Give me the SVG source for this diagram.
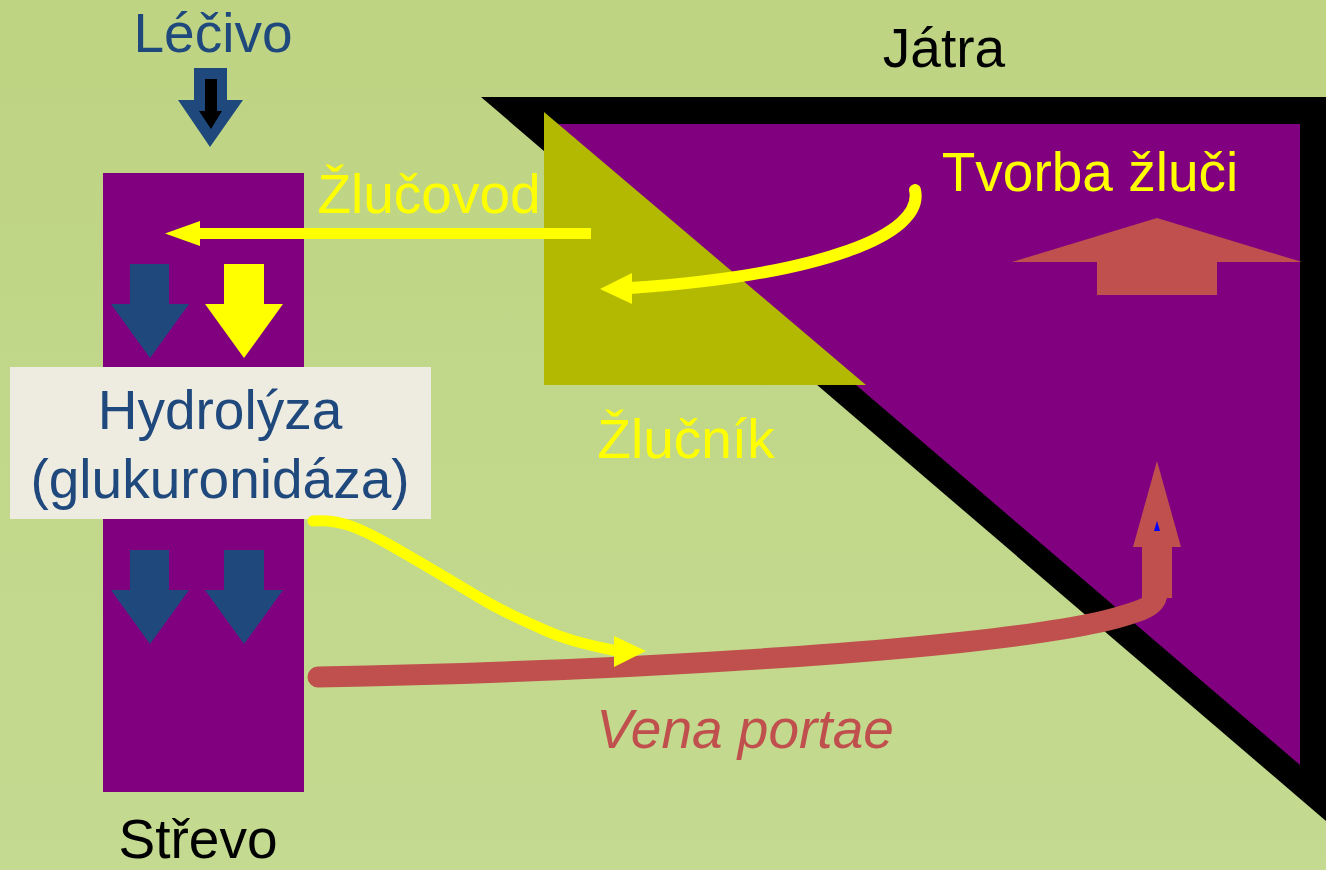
<svg xmlns="http://www.w3.org/2000/svg" width="1326" height="870" viewBox="0 0 1326 870">
<defs>
<linearGradient id="bg" x1="0" y1="0" x2="0" y2="1">
<stop offset="0" stop-color="#BED483"/>
<stop offset="1" stop-color="#C4DA90"/>
</linearGradient>
<style>
text{font-family:"Liberation Sans",Arial,sans-serif;font-size:55px}
.blue{fill:#1F497D}
.yel{fill:#FFFF00}
.red{fill:#C0504D}
.purple{fill:#800080}
.ystroke{fill:none;stroke:#FFFF00;stroke-linecap:round}
</style>
</defs>
<rect x="0" y="0" width="1326" height="870" fill="url(#bg)"/>

<g id="liver">
<polygon points="481,97 1326,97 1326,821" fill="#000"/>
<polygon points="551,124 1300,124 1300,765" class="purple"/>
<text x="944" y="67" text-anchor="middle" fill="#000">Játra</text>
</g>

<g id="gallbladder">
<polygon points="544,112 544,385 866,385" fill="#B3B800"/>
<text x="686" y="458" text-anchor="middle" class="yel">Žlučník</text>
</g>

<g id="bile-formation">
<text x="1090" y="191" text-anchor="middle" class="yel">Tvorba žluči</text>
<polygon points="1157,218 1302,262 1217,262 1217,295 1097,295 1097,262 1012,262" class="red"/>
</g>

<g id="drug">
<text x="213" y="52" text-anchor="middle" class="blue">Léčivo</text>
<polygon points="194,68 227,68 227,100 243,100 210,147 178,100 194,100" class="blue"/>
<polygon points="205,79 217,79 217,111 222,111 211,129 199,111 205,111" fill="#000"/>
</g>

<g id="intestine">
<rect x="103" y="173" width="201" height="619" class="purple"/>
<polygon points="130,264 169,264 169,304 189,304 150,358 111,304 130,304" class="blue"/>
<polygon points="224,264 264,264 264,304 283,304 244,358 205,304 224,304" class="yel"/>
<polygon points="130,550 169,550 169,590 189,590 150,644 111,590 130,590" class="blue"/>
<polygon points="224,550 264,550 264,590 283,590 244,644 205,590 224,590" class="blue"/>
<text x="198" y="858" text-anchor="middle" fill="#000">Střevo</text>
</g>

<g id="hydrolysis">
<rect x="10" y="367" width="421" height="152" fill="#EEECE1"/>
<text x="220" y="429" text-anchor="middle" class="blue">Hydrolýza</text>
<text x="220" y="498" text-anchor="middle" class="blue">(glukuronidáza)</text>
</g>

<g id="connectors">
<rect x="197" y="228" width="394" height="11" class="yel"/>
<polygon points="165,233.5 200,221 200,246" class="yel"/>
<text x="429" y="213" text-anchor="middle" class="yel">Žlučovod</text>

<path d="M915,190 C925,235 820,275 630,288" class="ystroke" stroke-width="12"/>
<polygon points="600,289 632,273 632,304" class="yel"/>

<path d="M318,677 C600,672 960,652 1100,622 C1150,610 1157,604 1157,592" fill="none" stroke="#C0504D" stroke-width="21" stroke-linecap="round"/>
<polygon points="1142,598 1142,547 1133,547 1157,461 1181,547 1172,547 1172,598" class="red"/>
<polygon points="1157,521 1160,531 1154,531" fill="#0000FF"/>
<text x="745" y="748" text-anchor="middle" class="red" font-style="italic">Vena portae</text>

<path d="M313,521 C340,519 360,528 390,545 C420,562 450,580 480,598 C500,610 515,617 540,628 C565,640 590,645 616,651" class="ystroke" stroke-width="11"/>
<polygon points="646,651 614,636 614,667" class="yel"/>
</g>
</svg>
